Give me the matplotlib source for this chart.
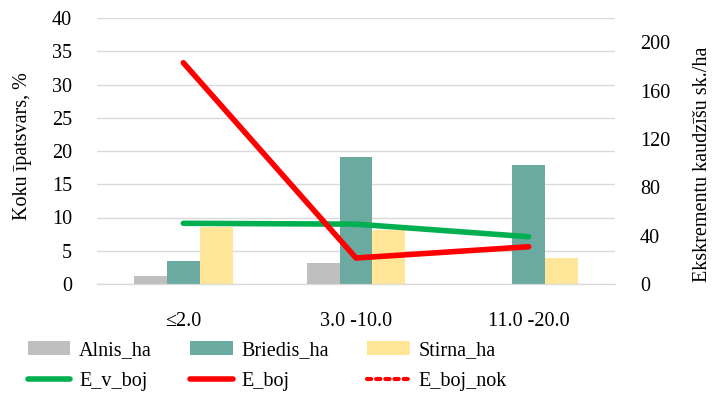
import numpy as np
import matplotlib
matplotlib.use('Agg')
import matplotlib.pyplot as plt

# DATA
groups = ['≤2.0', '3.0 -10.0', '11.0 -20.0']
alnis_ha = [1.25, 3.2, 0.0]
briedis_ha = [3.45, 19.15, 17.9]
stirna_ha = [8.5, 8.1, 3.85]
e_v_boj = [50.2, 49.5, 39.1]
e_boj = [183, 21.5, 30.8]
e_boj_nok = [183, 21.5, 30.8]

plt.rcParams['font.family'] = ['Liberation Serif', 'DejaVu Serif']
plt.rcParams['font.size'] = 14.5

fig = plt.figure(figsize=(7.12, 3.98), dpi=100)
ax = fig.add_axes([97/712, 1 - 284/398, 518/712, 266/398])
ax2 = ax.twinx()

x = np.arange(len(groups))
w = 0.19
b1 = ax.bar(x - w, alnis_ha, w, color='#BFBFBF', label='Alnis_ha', zorder=2)
b2 = ax.bar(x, briedis_ha, w, color='#6AAAA1', label='Briedis_ha', zorder=2)
b3 = ax.bar(x + w, stirna_ha, w, color='#FFE699', label='Stirna_ha', zorder=2)

l3, = ax2.plot(x, e_boj_nok, color='#FF0000', lw=3, ls=(0, (1, 1.2)),
               label='E_boj_nok', solid_capstyle='round', dash_capstyle='round')
l1, = ax2.plot(x, e_v_boj, color='#00B050', lw=4, label='E_v_boj', solid_capstyle='round')
l2, = ax2.plot(x, e_boj, color='#FF0000', lw=4, label='E_boj', solid_capstyle='round')

ax.set_xlim(-0.5, 2.5)
ax.set_ylim(0, 40)
ax.set_yticks(np.arange(0, 41, 5))
ax2.set_ylim(0, 220)
ax2.set_yticks(np.arange(0, 201, 40))
ax.set_xticks(x)
ax.set_xticklabels(groups)

ax.grid(axis='y', color='#D9D9D9', lw=1, zorder=0)
ax.set_axisbelow(True)
for a in (ax, ax2):
    for s in ['top', 'left', 'right']:
        a.spines[s].set_visible(False)
    a.spines['bottom'].set_color('#D9D9D9')
    a.tick_params(length=0)
ax.tick_params(axis='y', pad=18)
ax.tick_params(axis='x', pad=20)
ax2.tick_params(axis='y', pad=18)

ax.set_ylabel('Koku īpatsvars, %')
ax.yaxis.set_label_coords(-0.125, 0.52)
ax2.set_ylabel('Ekskrementu kaudzīšu sk./ha')
ax2.yaxis.set_label_coords(1.15, 0.45)

handles = [b1, l1, b2, l2, b3, l3]
labels = [h.get_label() for h in handles]
fig.legend(handles, labels, ncol=3, loc='lower left', bbox_to_anchor=(0.025, -0.008),
           frameon=False, handlelength=2.1, handleheight=0.7, columnspacing=1.9,
           handletextpad=0.45, labelspacing=0.6, borderaxespad=0.1)

fig.savefig('out.png', dpi=100)
